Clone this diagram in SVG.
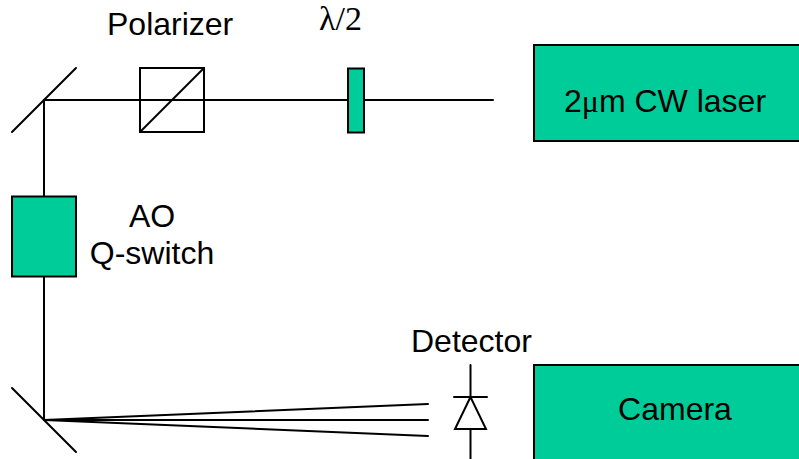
<svg xmlns="http://www.w3.org/2000/svg" width="799" height="459" viewBox="0 0 799 459">
<defs><clipPath id="detclip"><rect x="400" y="320" width="140" height="32"/></clipPath></defs>
<style>
.l{fill:none;stroke:#000;stroke-width:2;stroke-linecap:round;stroke-linejoin:miter}
.g{fill:#00cc99;stroke:#000;stroke-width:2}
.t{font-family:"Liberation Sans",Arial,sans-serif;font-size:32px;fill:#000}
.s{font-family:"Liberation Serif","Times New Roman",serif}
</style>
<rect width="799" height="459" fill="#fff"/>
<g id="connectors">
<path class="l" d="M493 100H44V420"/>
<path class="l" d="M44 420L428 404M44 420H428M44 420L428 436"/>
</g>
<g id="mirror-top"><path class="l" d="M12 132L76 68"/></g>
<g id="mirror-bottom"><path class="l" d="M12 388L76 452"/></g>
<g id="polarizer"><rect class="l" x="140" y="68" width="64" height="64"/><path class="l" d="M140 132L204 68"/>
<text class="t" x="107" y="35">Polarizer</text></g>
<g id="waveplate"><rect class="g" x="348" y="68.500" width="16" height="64"/>
<text class="t" x="319" y="30" style="font-size:34px"><tspan class="s">λ/2</tspan></text></g>
<g id="laser"><rect class="g" x="534" y="45" width="270" height="96"/>
<text class="t" x="564" y="112">2<tspan class="s">μ</tspan>m CW laser</text></g>
<g id="aoqs"><rect class="g" x="12" y="196.500" width="64" height="80"/>
<text class="t" text-anchor="middle" x="152" y="227">AO</text>
<text class="t" text-anchor="middle" x="152" y="264">Q-switch</text></g>
<g id="detector"><path class="l" d="M470.500 365V397M454 397H487M470.500 397L455 429H486ZM470.500 429V459"/>
<text class="t" x="411" y="352" clip-path="url(#detclip)">Detector</text></g>
<g id="camera"><rect class="g" x="534" y="365" width="270" height="100"/>
<text class="t" text-anchor="middle" x="675" y="420">Camera</text></g>
</svg>
